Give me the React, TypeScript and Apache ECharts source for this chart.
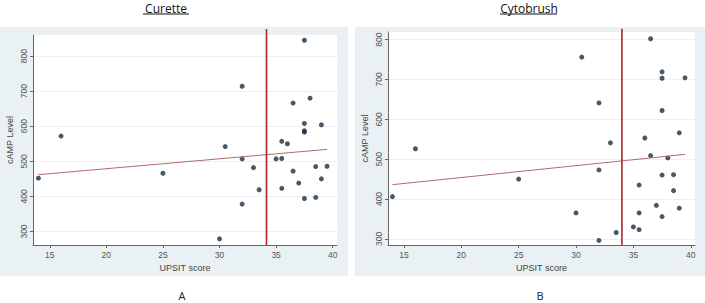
import React, { useEffect, useRef } from "react";
import * as echarts from "echarts";

const xTicks = [15, 20, 25, 30, 35, 40];
const yTicks = [300, 400, 500, 600, 700, 800];

const panelTitles = ["Curette", "Cytobrush"];
const panelLetters = ["A", "B"];
const xAxisTitle = "UPSIT score";
const yAxisTitle = "cAMP Level";

const curetteX = [14, 16, 25, 30, 30.5, 32, 32, 32, 33, 33.5, 35, 35.5, 35.5, 35.5, 36, 36.5, 36.5, 37, 37.5, 37.5, 37.5, 37.5, 37.5, 38, 38.5, 38.5, 39, 39, 39.5];
const curetteY = [452, 572, 466, 279, 542, 714, 507, 378, 482, 419, 507, 557, 508, 423, 550, 666, 472, 438, 845, 608, 587, 583, 394, 680, 485, 397, 604, 450, 486];

const cytoX = [14, 16, 25, 30, 30.5, 32, 32, 32, 33, 33.5, 35, 35.5, 35.5, 35.5, 36, 36.5, 36.5, 37, 37.5, 37.5, 37.5, 37.5, 37.5, 38, 38.5, 38.5, 39, 39, 39.5];
const cytoY = [406, 526, 450, 365, 756, 641, 473, 296, 541, 316, 330, 435, 365, 323, 553, 802, 509, 384, 719, 703, 622, 460, 356, 503, 461, 421, 566, 377, 704];

const curetteFitX = [14, 39.5];
const curetteFitY = [462, 534];
const cytoFitX = [14, 39.5];
const cytoFitY = [436, 512];

const curetteCutoff = 34.15;
const cytoCutoff = 34;
const curetteCutSpan = [261.5, 877];
const cytoCutSpan = [284.6, 827];

const curetteXRange = [13.52, 40.38];
const curetteYRange = [261.5, 860];
const cytoXRange = [13.61, 40.37];
const cytoYRange = [284.6, 819];

const zip = (xs: number[], ys: number[]) => xs.map((x, i) => [x, ys[i]]);

const DOT = "#1a2e46";
const FIT = "#b06a70";
const CUT = "#b3242b";
const BG = "#eaf1f4";
const FONT = "Liberation Sans";

function makeX(idx: number, range: number[]) {
  return {
    type: "value",
    gridIndex: idx,
    min: range[0],
    max: range[1],
    name: xAxisTitle,
    nameLocation: "middle",
    nameGap: 17,
    nameTextStyle: { fontFamily: FONT, fontSize: 9, color: "#444" },
    axisLine: { show: true, onZero: false, lineStyle: { color: "#666", width: 1 } },
    axisTick: { show: true, length: 3, customValues: xTicks, lineStyle: { color: "#666" } },
    axisLabel: { customValues: xTicks, fontFamily: FONT, fontSize: 8.5, color: "#555", margin: 5 },
    splitLine: { show: false },
  };
}

function makeY(idx: number, range: number[]) {
  return {
    type: "value",
    gridIndex: idx,
    min: range[0],
    max: range[1],
    name: yAxisTitle,
    nameLocation: "middle",
    nameGap: 19,
    nameRotate: 90,
    nameTextStyle: { fontFamily: FONT, fontSize: 9, color: "#444" },
    axisLine: { show: true, onZero: false, lineStyle: { color: "#666", width: 1 } },
    axisTick: { show: true, length: 3, customValues: yTicks, lineStyle: { color: "#666" } },
    axisLabel: { customValues: yTicks, rotate: 90, fontFamily: FONT, fontSize: 8.5, color: "#555", margin: 5 },
    splitLine: { show: true, lineStyle: { color: "#eaf0f3", width: 1 } },
  };
}

export default function App() {
  const ref = useRef<HTMLDivElement>(null);
  useEffect(() => {
    document.body.style.margin = "0";
    if (!ref.current) return;
    const chart = echarts.init(ref.current, null, { renderer: "svg" });
    const option: any = {
      animation: false,
      backgroundColor: "#ffffff",
      grid: [
        { left: 33, top: 35, width: 304, height: 210, show: true, backgroundColor: "#ffffff", borderWidth: 0 },
        { left: 388, top: 32, width: 307, height: 213, show: true, backgroundColor: "#ffffff", borderWidth: 0 },
      ],
      xAxis: [makeX(0, curetteXRange), makeX(1, cytoXRange)],
      yAxis: [makeY(0, curetteYRange), makeY(1, cytoYRange)],
      graphic: [
        { type: "rect", z: -10, shape: { x: 0, y: 27, width: 348, height: 249 }, style: { fill: BG } },
        { type: "rect", z: -10, shape: { x: 355, y: 27, width: 350, height: 249 }, style: { fill: BG } },
        { type: "text", x: 166, y: 2, style: { text: panelTitles[0], font: "12px 'Open Sans'", fill: "#111", textAlign: "center", textVerticalAlign: "top" } },
        { type: "line", shape: { x1: 143, y1: 14, x2: 189, y2: 14 }, style: { stroke: "#111", lineWidth: 1 } },
        { type: "text", x: 529, y: 2, style: { text: panelTitles[1], font: "12px 'Open Sans'", fill: "#111", textAlign: "center", textVerticalAlign: "top" } },
        { type: "line", shape: { x1: 500, y1: 14, x2: 557, y2: 14 }, style: { stroke: "#111", lineWidth: 1 } },
        { type: "text", x: 182, y: 301, style: { text: panelLetters[0], font: "11px 'Open Sans'", fill: "#222", textAlign: "center", textVerticalAlign: "bottom" } },
        { type: "text", x: 540, y: 301, style: { text: panelLetters[1], font: "11px 'Open Sans'", fill: "#222", textAlign: "center", textVerticalAlign: "bottom" } },
      ],
      series: [
        {
          type: "line", xAxisIndex: 0, yAxisIndex: 0, data: zip(curetteFitX, curetteFitY),
          symbol: "none", lineStyle: { color: FIT, width: 1 }, silent: true,
        },
        {
          type: "line", xAxisIndex: 0, yAxisIndex: 0, clip: false,
          data: curetteCutSpan.map((y) => [curetteCutoff, y]),
          symbol: "none", lineStyle: { color: CUT, width: 1.6 }, silent: true,
        },
        {
          type: "scatter", xAxisIndex: 0, yAxisIndex: 0, data: zip(curetteX, curetteY),
          symbolSize: 5, itemStyle: { color: DOT },
        },
        {
          type: "line", xAxisIndex: 1, yAxisIndex: 1, data: zip(cytoFitX, cytoFitY),
          symbol: "none", lineStyle: { color: FIT, width: 1 }, silent: true,
        },
        {
          type: "line", xAxisIndex: 1, yAxisIndex: 1, clip: false,
          data: cytoCutSpan.map((y) => [cytoCutoff, y]),
          symbol: "none", lineStyle: { color: CUT, width: 1.6 }, silent: true,
        },
        {
          type: "scatter", xAxisIndex: 1, yAxisIndex: 1, data: zip(cytoX, cytoY),
          symbolSize: 5, itemStyle: { color: DOT },
        },
      ],
    };
    chart.setOption(option);
    return () => chart.dispose();
  }, []);
  return <div ref={ref} style={{ width: 705, height: 303 }} />;
}
